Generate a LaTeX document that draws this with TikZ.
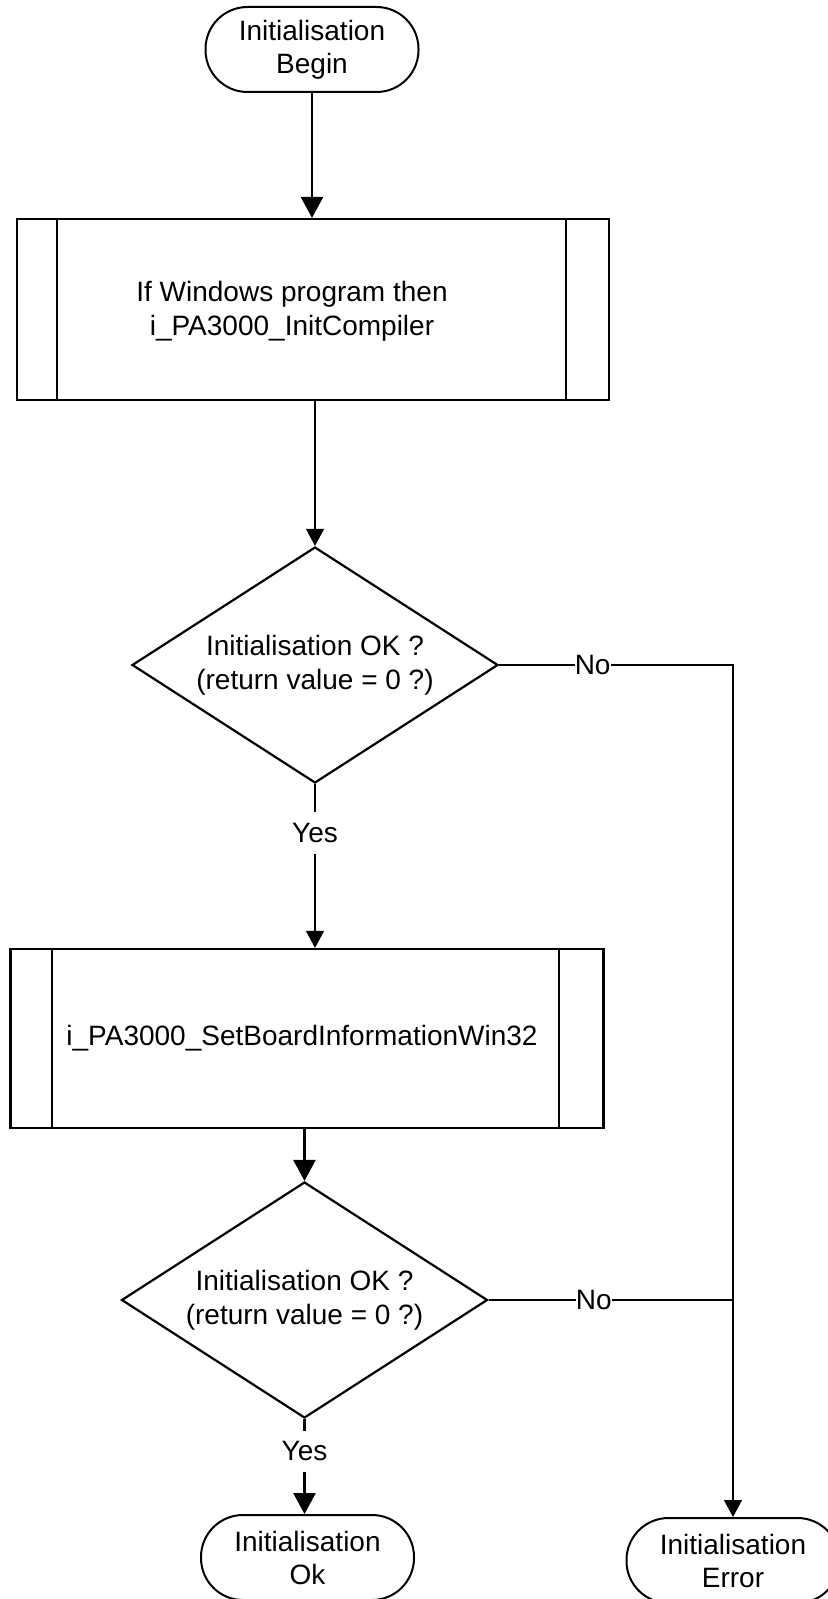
\documentclass[tikz,border=0pt]{standalone}
\usepackage{fontspec}
\setmainfont{Liberation Sans}
\usetikzlibrary{shapes.geometric,arrows.meta}

\tikzset{
  every node/.style={font=\fontsize{14pt}{17pt}\selectfont},
  term/.style={draw, line width=1pt, rounded corners=21pt,
    minimum width=106.5pt, minimum height=42.5pt, inner sep=0pt,
    align=center, font=\fontsize{14pt}{16.5pt}\selectfont},
  proc/.style={draw, line width=1.1pt, inner sep=0pt},
  dec/.style={draw, shape=diamond, line width=1.1pt, aspect=1.55,
    minimum width=183pt, minimum height=118pt, inner sep=0pt, align=center},
  heavyarrow/.style={line width=1.3pt, -{Triangle[width=11pt,length=10.5pt]}},
  lightarrow/.style={line width=0.6pt, -{Triangle[width=9pt,length=8.5pt]}},
  lightline/.style={line width=0.6pt},
  yeslabel/.style={fill=white, inner xsep=2pt, inner ysep=5.5pt},
  nolabel/.style={fill=white, inner xsep=0pt, inner ysep=2pt},
  divider/.style={line width=1pt}
}

\begin{document}
\begin{tikzpicture}[x=0.5pt,y=-0.5pt]
\useasboundingbox (0,0) rectangle (828,1599);
\clip (0,0) rectangle (828,1599);

% start terminal
\node[term] (begin) at (312,49.5) {Initialisation\\Begin};

% predefined process: compiler initialisation
\node[proc, minimum width=296pt, minimum height=90.5pt,
  label={[xshift=-10.5pt, yshift=-1pt, align=center]center:If Windows program then\\i\_PA3000\_InitCompiler}]
  (init) at (313,309.5) {};
\draw[divider] ([xshift=20.5pt]init.north west) -- ([xshift=20.5pt]init.south west)
               ([xshift=-22pt]init.north east) -- ([xshift=-22pt]init.south east);

% first check
\node[dec] (chk1) at (315,665) {Initialisation OK ?\\(return value = 0 ?)};

% predefined process: board information
\node[proc, minimum width=296.5pt, minimum height=89.5pt,
  label={[xshift=-2.5pt]center:i\_PA3000\_SetBoardInformationWin32}]
  (setinfo) at (307,1038.5) {};
\draw[divider] ([xshift=21.25pt]setinfo.north west) -- ([xshift=21.25pt]setinfo.south west)
               ([xshift=-22.75pt]setinfo.north east) -- ([xshift=-22.75pt]setinfo.south east);

% second check
\node[dec] (chk2) at (304.5,1300) {Initialisation OK ?\\(return value = 0 ?)};

% end terminals
\node[term] (ok) at (307.5,1557.5) {Initialisation\\Ok};
\node[term] (err) at (733,1560.5) {Initialisation\\Error};

% connectors
\draw[heavyarrow] (begin.south) -- (begin.south |- init.north);
\draw[lightarrow] (chk1.north |- init.south) -- (chk1.north);
\draw[lightarrow] (chk1.south) -- node[yeslabel, pos=0.3] {Yes} (chk1.south |- setinfo.north);
\draw[heavyarrow] (chk2.north |- setinfo.south) -- (chk2.north);
\draw[heavyarrow] (chk2.south) -- node[yeslabel, pos=0.34] {Yes} (chk2.south |- ok.north);

\coordinate (errtop) at (err.north |- chk1.east);
\coordinate (errjoin) at (err.north |- chk2.east);
\draw[lightarrow] (chk1.east) -- node[nolabel, pos=0.4] {No} (errtop) -- (err.north);
\draw[lightline] (chk2.east) -- node[nolabel, pos=0.43] {No} (errjoin);
\end{tikzpicture}
\end{document}
